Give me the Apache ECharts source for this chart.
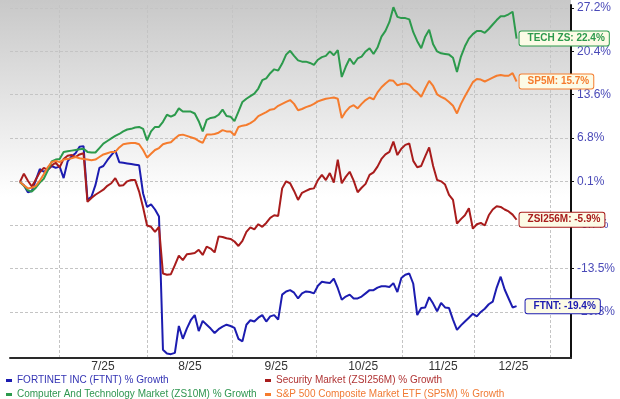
<!DOCTYPE html>
<html><head><meta charset="utf-8">
<script src="https://cdn.jsdelivr.net/npm/echarts@6/dist/echarts.min.js"></script>
<style>html,body{margin:0;padding:0;background:#fff}#c{width:620px;height:399px}</style>
</head><body><div id="c"></div>
<script>
// Trading dates (categories), 2025
const dates = [
 '6/16','6/17','6/18','6/20','6/23','6/24','6/25','6/26','6/27','6/30',
 '7/1','7/2','7/3','7/7','7/8','7/9','7/10','7/11','7/14','7/15','7/16','7/17','7/18','7/21','7/22','7/23','7/24','7/25','7/28','7/29','7/30','7/31',
 '8/1','8/4','8/5','8/6','8/7','8/8','8/11','8/12','8/13','8/14','8/15','8/18','8/19','8/20','8/21','8/22','8/25','8/26','8/27','8/28','8/29',
 '9/2','9/3','9/4','9/5','9/8','9/9','9/10','9/11','9/12','9/15','9/16','9/17','9/18','9/19','9/22','9/23','9/24','9/25','9/26','9/29','9/30',
 '10/1','10/2','10/3','10/6','10/7','10/8','10/9','10/10','10/13','10/14','10/15','10/16','10/17','10/20','10/21','10/22','10/23','10/24','10/27','10/28','10/29','10/30','10/31',
 '11/3','11/4','11/5','11/6','11/7','11/10','11/11','11/12','11/13','11/14','11/17','11/18','11/19','11/20','11/21','11/24','11/25','11/26','11/28',
 '12/1','12/2','12/3','12/4','12/5','12/8','12/9','12/10','12/11','12/12'
];

// % growth series
const ftnt = [0.0,-0.5,-1.6,-1.4,0.3,2.0,1.6,1.9,2.5,2.2,
 2.4,0.6,3.2,4.0,4.5,5.5,5.6,-2.8,-2.3,-0.5,
 2.2,2.5,3.4,4.2,4.9,3.1,3.0,2.9,2.8,2.7,
 2.6,-1.8,-3.9,-3.5,-4.3,-5.4,-26.2,-26.8,-26.9,-26.7,
 -22.5,-24.5,-22.9,-21.6,-20.8,-23.3,-21.7,-22.3,-22.9,-23.6,
 -23.0,-22.6,-22.3,-22.5,-22.8,-24.5,-24.9,-22.3,-21.6,-21.8,
 -21.2,-20.8,-21.8,-21.0,-20.8,-21.5,-17.6,-17.1,-16.9,-17.3,
 -18.2,-17.4,-17.1,-17.2,-17.4,-16.2,-15.6,-15.7,-15.8,-15.1,
 -16.6,-18.4,-17.9,-17.6,-18.2,-18.2,-17.9,-17.4,-16.9,-16.9,
 -16.5,-16.3,-16.3,-16.4,-15.8,-17.2,-15.0,-14.5,-14.3,-15.9,
 -20.8,-19.7,-19.6,-18.0,-19.0,-20.2,-18.9,-19.6,-19.7,-21.5,
 -23.1,-22.4,-21.8,-21.2,-20.6,-21.0,-20.3,-19.8,-19.1,-18.7,
 -16.5,-14.8,-16.8,-18.2,-19.6,-19.4];

const security = [0.0,1.3,0.2,-0.7,0.4,1.5,2.2,1.9,2.6,3.0,
 2.3,3.6,4.1,4.2,3.9,4.3,4.5,-3.1,-2.5,-2.0,
 -1.6,-1.2,-0.6,-0.2,0.6,-0.6,-0.5,0.1,0.3,0.3,
 -1.5,-4.0,-6.8,-7.0,-7.8,-7.0,-14.3,-14.5,-14.4,-13.0,
 -11.5,-12.2,-11.3,-11.2,-11.1,-10.6,-11.4,-10.1,-10.4,-11.0,
 -8.5,-8.6,-8.8,-8.9,-9.3,-10.0,-9.2,-7.8,-7.1,-7.4,
 -6.6,-7.0,-6.4,-5.6,-5.2,-5.3,-1.0,0.1,-0.2,-1.4,
 -2.8,-1.7,-1.4,-1.1,-1.0,0.3,1.1,0.3,1.4,-0.1,
 3.5,-0.2,0.8,1.6,0.2,-1.6,-0.9,-0.3,1.1,1.5,
 2.4,3.6,4.3,4.7,6.3,4.2,5.2,5.8,6.0,3.3,
 2.3,2.5,4.0,5.4,2.5,0.3,0.1,-0.4,-2.0,-2.8,
 -6.5,-5.8,-5.2,-4.1,-7.3,-6.6,-6.4,-6.8,-5.2,-4.3,
 -3.8,-3.9,-4.3,-4.6,-5.1,-5.9];

const tech = [0.0,-0.6,-1.3,-1.5,-0.9,-0.1,0.5,1.8,3.2,3.5,
 3.6,4.7,4.8,4.9,5.0,5.1,5.2,4.7,4.6,4.6,
 5.3,6.0,6.4,6.8,7.2,7.5,7.9,8.2,8.3,8.5,
 8.6,8.3,6.5,7.9,8.6,8.6,9.4,10.5,10.2,10.5,
 11.5,11.0,11.0,11.0,10.7,9.5,7.9,9.7,10.0,10.1,
 10.5,11.3,10.3,10.2,9.5,11.0,12.5,13.0,13.4,13.8,
 14.6,15.9,16.2,17.0,17.6,17.4,18.5,19.9,20.5,19.7,
 19.0,18.8,18.8,18.6,18.3,19.1,19.5,19.7,20.4,19.8,
 20.6,16.4,18.0,19.3,18.4,19.3,19.6,20.4,20.9,20.0,
 21.0,22.7,23.6,25.0,27.3,25.8,25.6,25.6,25.4,23.4,
 22.0,20.9,22.7,23.8,21.5,20.4,20.1,20.0,19.9,19.4,
 17.2,19.6,21.2,22.4,23.1,23.6,23.6,23.3,23.9,24.6,
 25.3,25.9,25.9,26.2,26.6,22.4];

const sp500 = [0.0,-0.5,-1.0,-0.9,-0.6,0.2,1.2,2.3,3.1,3.3,
 3.1,3.5,3.6,3.7,3.9,3.7,3.6,3.5,3.4,3.5,
 3.9,4.3,4.5,4.7,4.7,5.4,5.9,6.0,6.1,6.1,
 5.9,5.0,3.8,4.4,5.0,5.3,5.9,6.1,6.2,6.8,
 7.3,7.4,7.2,7.0,6.8,6.4,6.1,7.4,7.4,7.5,
 7.7,8.1,7.9,7.9,7.3,8.6,8.8,8.9,9.2,9.6,
 10.3,10.6,10.9,11.3,11.4,11.9,12.2,12.5,12.8,12.2,
 11.2,11.4,11.7,11.9,12.2,12.6,12.8,13.0,13.1,13.2,
 13.0,10.0,11.0,11.7,12.0,11.5,12.2,12.8,13.2,12.9,
 14.0,14.8,15.4,15.9,15.8,15.1,15.3,15.4,15.2,14.5,
 14.0,13.3,14.6,15.8,15.0,13.7,13.3,13.0,12.5,11.9,
 10.7,12.2,13.4,14.5,15.6,16.1,16.0,15.7,16.0,16.3,
 16.6,16.7,16.6,16.6,17.0,15.7];

const seriesNames = [
 'FORTINET INC (FTNT) % Growth',
 'Security Market (ZSI256M) % Growth',
 'Computer And Technology Market (ZS10M) % Growth',
 'S&P 500 Composite Market ETF (SP5M) % Growth'
];
const endTags = ['FTNT', 'ZSI256M', 'TECH ZS', 'SP5M'];

// axis ticks
const yTickValues = [27.2, 20.414, 13.629, 6.843, 0.057, -6.729, -13.514, -20.3];
const yTickLabels = ['27.2%', '20.4%', '13.6%', '6.8%', '0.1%', '-6.7%', '-13.5%', '-20.3%'];
const xGridIdx = [9.8, 32, 53.4, 74.6, 96.2, 114.4, 133.5];
const xLabelIdx = [20.9, 42.8, 64.5, 86.4, 106.5, 124.2];
const xLabels = ['7/25', '8/25', '9/25', '10/25', '11/25', '12/25'];

const colors = ['#1c1cb0', '#a81c1c', '#2c9a4c', '#f57c2e'];
const legendColors = ['#3434b4', '#b03434', '#2f9650', '#f07a34'];
const FONT = '"Liberation Sans", Arial, sans-serif';

const all = [ftnt, security, tech, sp500];
const chart = echarts.init(document.getElementById('c'), null, {renderer: 'canvas'});

function findIdx(arr, v) {
  let best = 0, bd = Infinity;
  arr.forEach((t, k) => { const d = Math.abs(t - v); if (d < bd) { bd = d; best = k; } });
  return best;
}

const series = all.map((vals, k) => ({
  name: seriesNames[k],
  type: 'line',
  data: vals.map((v, i) => [i, v]),
  showSymbol: false,
  symbol: 'none',
  lineStyle: { color: colors[k], width: 2 },
  itemStyle: { color: colors[k] },
  z: 3 + k,
  animation: false,
  endLabel: {
    show: true,
    formatter: () => endTags[k] + ': ' + vals[vals.length - 1].toFixed(1) + '%',
    color: colors[k],
    fontFamily: FONT,
    fontWeight: 'bold',
    fontSize: 10,
    lineHeight: 11,
    backgroundColor: '#fcfbe6',
    borderColor: colors[k],
    borderWidth: 1,
    borderRadius: 2,
    padding: [2, 4, 1, 8],
    distance: k === 0 ? 9 : 3
  }
}));

const legendBase = {
  orient: 'vertical', top: 374, height: 40, width: 300, padding: 0,
  itemWidth: 6, itemHeight: 3, itemGap: 1,
  icon: 'rect', selectedMode: false,
  textStyle: { fontSize: 10, lineHeight: 13, fontFamily: FONT }
};

chart.setOption({
  animation: false,
  backgroundColor: '#ffffff',
  textStyle: { fontFamily: FONT },
  graphic: [{
    type: 'rect', z: -10, silent: true,
    shape: { x: 0, y: 0, width: 571, height: 358 },
    style: { fill: new echarts.graphic.LinearGradient(0, 0, 0, 1, [
      { offset: 0, color: '#c8c8c8' },
      { offset: 0.55, color: '#ffffff' },
      { offset: 1, color: '#ffffff' }
    ]) }
  }],
  grid: { left: 10, right: 49, top: 5, bottom: 41, containLabel: false },
  legend: [
    Object.assign({}, legendBase, {
      left: 6,
      data: [
        { name: seriesNames[0], textStyle: { color: legendColors[0] } },
        { name: seriesNames[2], textStyle: { color: legendColors[2] } }
      ]
    }),
    Object.assign({}, legendBase, {
      left: 265,
      data: [
        { name: seriesNames[1], textStyle: { color: legendColors[1] } },
        { name: seriesNames[3], textStyle: { color: legendColors[3] } }
      ]
    })
  ],
  xAxis: {
    type: 'value',
    min: -2.5, max: 138.7,
    axisLine: { show: true, onZero: false, lineStyle: { color: '#2a2a2a', width: 2 } },
    axisTick: { show: false, customValues: xGridIdx },
    splitLine: { show: true, lineStyle: { color: '#c4c4c4', type: [3, 2], width: 1 } },
    axisLabel: {
      customValues: xLabelIdx,
      formatter: v => xLabels[findIdx(xLabelIdx, v)],
      color: '#333', fontSize: 12, margin: 3, fontFamily: FONT
    }
  },
  yAxis: {
    type: 'value',
    position: 'right',
    min: -27.5, max: 27.65,
    axisLine: { show: true, onZero: false, lineStyle: { color: '#111', width: 2 } },
    axisTick: { show: true, length: 3, customValues: yTickValues, lineStyle: { color: '#111', width: 1 } },
    splitLine: { show: true, lineStyle: { color: '#c4c4c4', type: [3, 2], width: 1 } },
    axisLabel: {
      customValues: yTickValues,
      formatter: v => yTickLabels[findIdx(yTickValues, v)],
      color: '#4a4ab8', fontSize: 12, margin: 6, fontFamily: FONT
    }
  },
  series: series
});
</script>
</body></html>
